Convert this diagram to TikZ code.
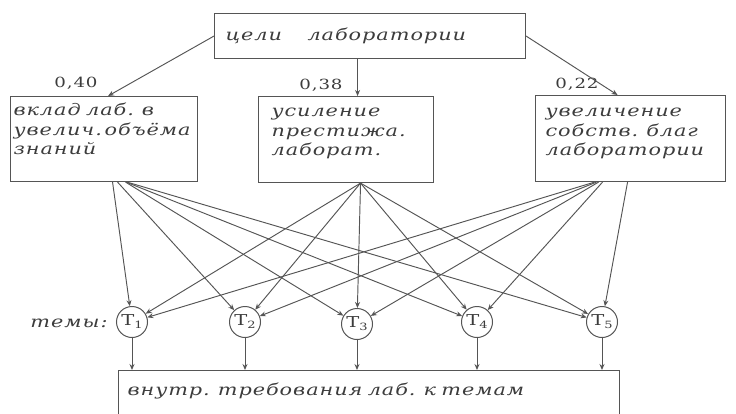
\documentclass[tikz,border=0pt]{standalone}
\usepackage{fontspec}
\newfontfamily\hand[FakeStretch=1.3,LetterSpace=6]{DejaVu Serif}
\usetikzlibrary{arrows.meta}
\definecolor{pencil}{HTML}{555555}
\definecolor{ink}{HTML}{3C3C3C}
\tikzset{
  handfont/.style={font=\hand\itshape\fontsize{16}{19.5}\selectfont, text=ink},
  box/.style={draw=pencil, line width=1.1pt, inner xsep=0pt, inner ysep=0pt,
    anchor=north west, align=left, handfont},
  tnode/.style={circle, draw=pencil, line width=1pt, minimum size=31pt, inner sep=0pt,
    font=\hand\upshape\fontsize{15}{15}\selectfont, text=ink},
  lbl/.style={inner sep=0pt, handfont, font=\hand\upshape\fontsize{14}{14}\selectfont},
  arr/.style={draw=pencil, line width=0.95pt, -{Stealth[length=6pt,width=5pt]}},
}
\newcommand{\tsub}[1]{T\raisebox{-3pt}{\fontsize{10}{10}\selectfont #1}}
\begin{document}
\begin{tikzpicture}[x=1pt,y=-1pt]
\useasboundingbox (0,0) rectangle (736,413);
\clip (0,0) rectangle (736,413);
% boxes
\node[box, minimum width=311pt, text width=289pt, text height=27pt, text depth=18pt] (goal) at (214,13) {цели\hspace{1.6em}лаборатории};
\node[box, minimum width=187pt, text width=181pt, text height=19pt, text depth=66pt] (a) at (10,96) {вклад лаб. в\\увелич.\,объёма\\знаний};
\node[box, minimum width=175pt, text width=149pt, text height=20pt, text depth=66pt] (b) at (258,96) {усиление\\престижа.\\лаборат.};
\node[box, minimum width=190pt, text width=170pt, text height=21pt, text depth=65pt] (c) at (535,95) {увеличение\\собств. благ\\лаборатории};
\node[box, minimum width=501pt, text width=483pt, text height=25pt, text depth=35pt] (bot) at (118,370) {внутр. требования лаб. к темам};
% weights
\node[lbl] (w1) at (76,83) {0,40};
\node[lbl] (w2) at (321,85) {0,38};
\node[lbl] (w3) at (577,84) {0,22};
% topics
\node[lbl, font=\hand\itshape\fontsize{16}{16}\selectfont] (themes) at (69,323) {темы:};
\node[tnode] (T1) at (132,322) {\tsub{1}};
\node[tnode] (T2) at (245,322) {\tsub{2}};
\node[tnode] (T3) at (357,324) {\tsub{3}};
\node[tnode] (T4) at (477,322) {\tsub{4}};
\node[tnode] (T5) at (602,322) {\tsub{5}};
% goal to criteria
\draw[arr] (goal.west) -- ([xshift=4pt]a.north);
\draw[arr] ([xshift=-12.5pt]goal.south) -- ([xshift=11.5pt]b.north);
\draw[arr] (goal.east) -- ([xshift=-13pt]c.north);
% criteria to topics
\foreach \t/\s in {T1/8.5, T2/13.5, T3/21.5, T4/22, T5/23}
  \draw[arr] ([xshift=\s pt]a.south) -- (\t);
\foreach \t in {T1,T2,T3,T4,T5}
  \draw[arr] ([xshift=14.5pt]b.south) -- (\t);
\foreach \t/\s in {T1/-36, T2/-34, T3/-32, T4/-28, T5/-3}
  \draw[arr] ([xshift=\s pt]c.south) -- (\t);
% topics to requirements
\foreach \t in {T1,T2,T3,T4,T5}
  \draw[arr] (\t) -- (\t |- bot.north);
\end{tikzpicture}
\end{document}
